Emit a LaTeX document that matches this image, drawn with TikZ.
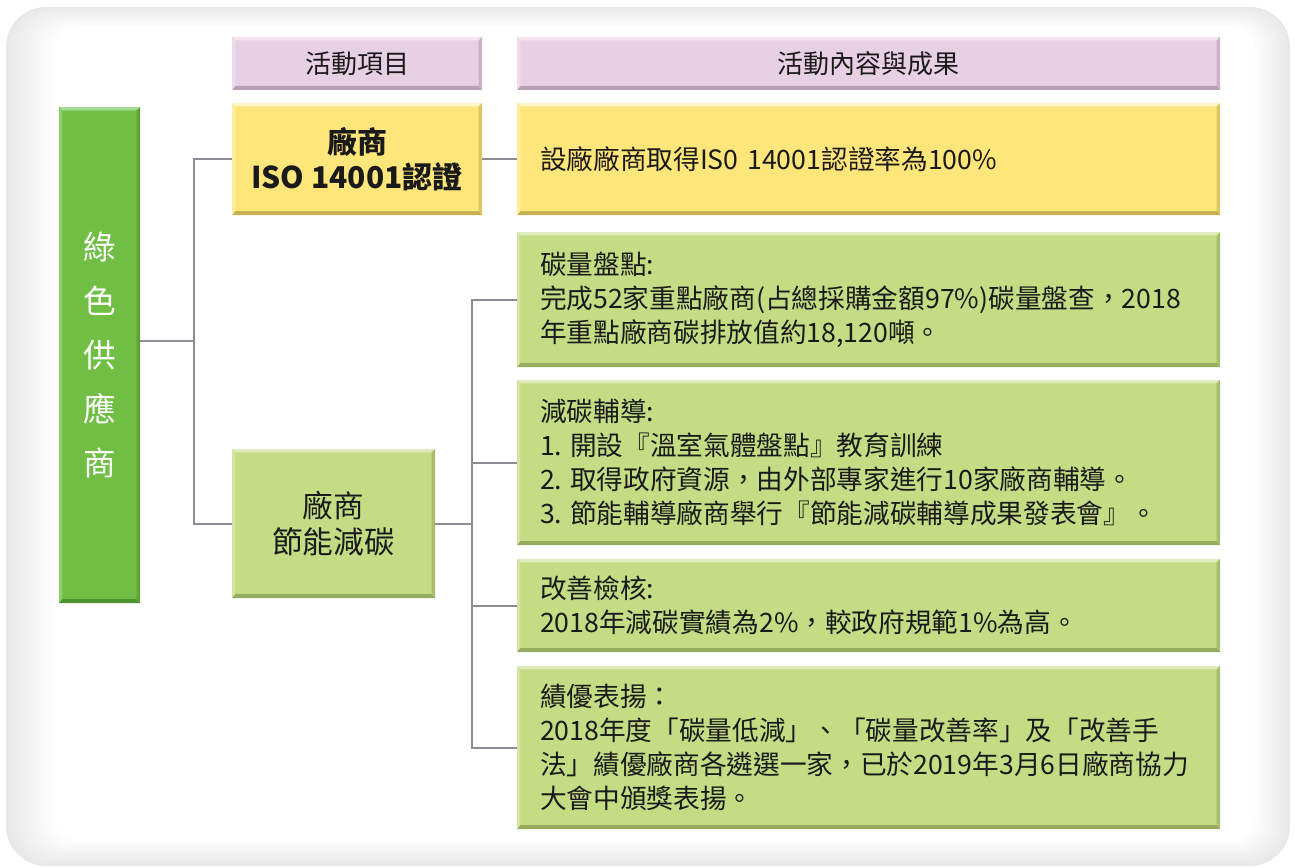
\documentclass[tikz,border=0pt]{standalone}
\usepackage{fontspec}
\setmainfont{Noto Sans CJK TC}
\definecolor{pinkc}{RGB}{232,208,228}
\definecolor{pinkl}{RGB}{243,230,240}
\definecolor{pinkd}{RGB}{186,158,180}
\definecolor{yelc}{RGB}{255,230,122}
\definecolor{yell}{RGB}{255,246,200}
\definecolor{yeld}{RGB}{200,176,82}
\definecolor{lgc}{RGB}{196,220,132}
\definecolor{lgl}{RGB}{222,236,190}
\definecolor{lgd}{RGB}{148,172,92}
\definecolor{dgc}{RGB}{112,190,68}
\definecolor{dgl}{RGB}{168,220,150}
\definecolor{dgd}{RGB}{80,146,48}
\definecolor{linec}{RGB}{140,140,148}
\definecolor{txt}{RGB}{26,26,26}
\tikzset{
  bev/.style n args={3}{fill=#1, path picture={
    \fill[#2] (path picture bounding box.north west) -- (path picture bounding box.north east) -- ([shift={(-2.5pt,-2.5pt)}]path picture bounding box.north east) -- ([shift={(2.5pt,-2.5pt)}]path picture bounding box.north west) -- cycle;
    \fill[#3] (path picture bounding box.south west) -- (path picture bounding box.south east) -- ([shift={(-2.5pt,3pt)}]path picture bounding box.south east) -- ([shift={(2.5pt,3pt)}]path picture bounding box.south west) -- cycle;
    \fill[#3!60!#1] (path picture bounding box.south east) -- (path picture bounding box.north east) -- ([shift={(-2.5pt,-2.5pt)}]path picture bounding box.north east) -- ([shift={(-2.5pt,3pt)}]path picture bounding box.south east) -- cycle;
    \fill[#2!50!#1] (path picture bounding box.south west) -- (path picture bounding box.north west) -- ([shift={(2.5pt,-2.5pt)}]path picture bounding box.north west) -- ([shift={(2.5pt,3pt)}]path picture bounding box.south west) -- cycle;
  }},
  box/.style={rectangle, inner sep=0pt, outer sep=0pt, text=txt},
  hdr/.style={box, bev={pinkc}{pinkl}{pinkd}, minimum height=53*0.75pt, font=\fontsize{19.5pt}{24pt}\selectfont},
  content/.style={box, bev={lgc}{lgl}{lgd}, inner xsep=23*0.75pt, text width=657*0.75pt, align=left, font=\fontsize{20pt}{25.5pt}\selectfont},
  conn/.style={draw=linec, line width=1.5pt},
}
\newcommand\nsp{\hspace{0.3em}}
\begin{document}
\begin{tikzpicture}[x=0.75pt, y=-0.75pt]
\useasboundingbox (0,0) rectangle (1295,867);
% background panel with soft edge
\foreach \i in {0,...,16}{
  \pgfmathsetmacro{\c}{max(0,9-0.56*\i)}
  \fill[black!\c, rounded corners={(30-0.8*\i)*1pt}] (6+3*\i, 7+1.2*\i) rectangle (1290-2.2*\i, 866-1.6*\i);
}
% headers
\node[hdr, minimum width=250*0.75pt] (h1) at (357,63.5) {活動項目};
\node[hdr, minimum width=703*0.75pt] (h2) at (868.5,63.5) {活動內容與成果};
% left main box
\node[box, bev={dgc}{dgl}{dgd}, minimum width=81*0.75pt, minimum height=496*0.75pt, text=white, align=center, font=\fontsize{24.5pt}{40.5pt}\selectfont] (main) at (99.5,355) {綠\\色\\供\\應\\商};
% second column
\node[box, bev={yelc}{yell}{yeld}, minimum width=250*0.75pt, minimum height=112*0.75pt, align=center, font=\fontsize{22.5pt}{26.25pt}\selectfont\bfseries] (iso) at (357,159) {廠商\\ISO 14001認證};
\node[box, bev={lgc}{lgl}{lgd}, minimum width=203*0.75pt, minimum height=149*0.75pt, align=center, font=\fontsize{23pt}{27pt}\selectfont] (save) at (333.5,523.5) {廠商\\節能減碳};
% third column
\node[content, bev={yelc}{yell}{yeld}, minimum height=112*0.75pt] (isor) at (868.5,159) {設廠廠商取得IS0 14001認證率為100\%};
\node[content, minimum height=135*0.75pt] (r1) at (868.5,299.5) {碳量盤點:\\完成52家重點廠商(占總採購金額97\%)碳量盤查，2018\\年重點廠商碳排放值約18,120噸。};
\node[content, minimum height=165*0.75pt] (r2) at (868.5,462.5) {減碳輔導:\\1.\nsp 開設『溫室氣體盤點』教育訓練\\2.\nsp 取得政府資源，由外部專家進行10家廠商輔導。\\3.\nsp 節能輔導廠商舉行『節能減碳輔導成果發表會』。};
\node[content, minimum height=93*0.75pt] (r3) at (868.5,605.5) {改善檢核:\\2018年減碳實績為2\%，較政府規範1\%為高。};
\node[content, minimum height=163*0.75pt] (r4) at (868.5,747.5) {績優表揚：\\2018年度「碳量低減」、「碳量改善率」及「改善手\\法」績優廠商各遴選一家，已於2019年3月6日廠商協力\\大會中頒獎表揚。};
% connectors
\coordinate (j1) at (194,340.5);
\coordinate (j2) at (472,523.5);
\draw[conn] (j1 -| main.east) -- (j1);
\draw[conn] (iso.west) -| (j1) |- (save.west);
\draw[conn] (iso.east) -- (isor.west);
\draw[conn] (save.east) -- (j2);
\draw[conn] (r1.west) -| (r4.west -| j2) -- (r4.west);
\draw[conn] (r2.west) -- (r2.west -| j2);
\draw[conn] (r3.west) -- (r3.west -| j2);
\end{tikzpicture}
\end{document}
